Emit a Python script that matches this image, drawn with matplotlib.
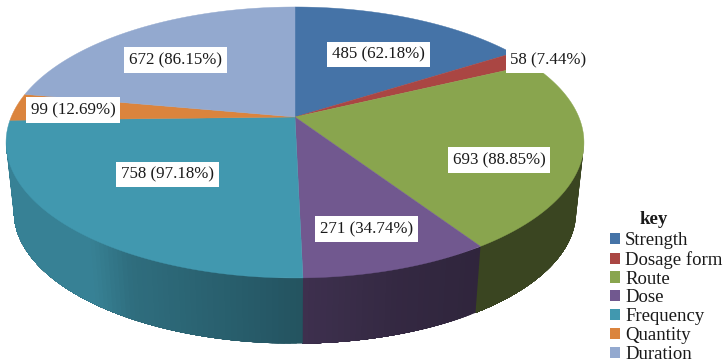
import numpy as np
import matplotlib
matplotlib.use('Agg')
import matplotlib.pyplot as plt
from matplotlib.colors import to_rgb
from matplotlib.patches import Patch, Polygon

categories = ['Strength', 'Dosage form', 'Route', 'Dose', 'Frequency', 'Quantity', 'Duration']
values = [485, 58, 693, 271, 758, 99, 672]
percents = ['62.18', '7.44', '88.85', '34.74', '97.18', '12.69', '86.15']

colors = ['#4573A7', '#AA4643', '#89A54E', '#71588F', '#4198AF', '#DB843D', '#93A9CF']
# label centres in picture pixels
label_pos = [(378.5, 54.5), (548.5, 60), (499, 160), (366.5, 229), (167.5, 174.5), (73, 110), (175.5, 60)]

plt.rcParams['font.family'] = ['Liberation Serif', 'DejaVu Serif']

fig = plt.figure(figsize=(7.26, 3.62), dpi=100)
ax = fig.add_axes([0, 0, 1, 1])
ax.set_xlim(0, 726)
ax.set_ylim(362, 0)
ax.axis('off')

# perspective view of the pie disc, centre of the top face sits at (295, 117)
def project(angle, scale=1.0, drop=0.0):
    xs = np.sin(angle)
    ys = np.cos(angle)
    w = 1 + 0.188 * ys
    return 295 + scale * 283.8 * xs / w, 117 + drop - scale * 130.7 * ys / w

def side_shade(x):
    return np.interp(x, [6, 90, 130, 300, 400, 480, 585], [0.85, 0.85, 0.72, 0.55, 0.46, 0.42, 0.42])

edges = np.radians(np.cumsum([0] + values) / sum(values) * 360)

# only the front of the wall can be seen, between the two silhouette points
wall_from, wall_to = np.radians(101), np.radians(259)

# each strip runs on to the end of its wedge and the next one paints over it, so no seams
for start, end, color in zip(edges[:-1], edges[1:], colors):
    start = max(start, wall_from)
    end = min(end, wall_to)
    if end <= start:
        continue
    angles = np.linspace(start, end, max(int(np.degrees(end - start)), 2) + 1)
    for i in range(len(angles) - 1):
        rest = angles[i:]
        x0, y0 = project(rest)
        x1, y1 = project(rest[::-1], 0.973, 70)
        shade = side_shade((x0[0] + x0[1]) / 2)
        c = tuple(v * shade for v in to_rgb(color))
        pts = list(zip(x0, y0)) + list(zip(x1, y1))
        ax.add_patch(Polygon(pts, fc=c, ec='none', lw=0))

for start, end, color in zip(edges[:-1], edges[1:], colors):
    angles = np.linspace(start, end, 200)
    x, y = project(angles)
    pts = [(295, 117)] + list(zip(x, y))
    ax.add_patch(Polygon(pts, fc=color, ec=color, lw=0.3, zorder=3))

for v, p, (lx, ly) in zip(values, percents, label_pos):
    ax.text(lx, ly, f'{v} ({p}%)', fontsize=12.2, color='#1a1a1a', ha='center', va='center', zorder=5,
            bbox=dict(boxstyle='square,pad=0.28', fc='white', ec='none'))

handles = [Patch(fc=c, ec='none', label=name) for c, name in zip(colors, categories)]
ax.legend(handles=handles, loc='upper left', bbox_to_anchor=(610 / 726, 1 - 232 / 362), frameon=False,
          fontsize=13.5, handlelength=0.53, handleheight=0.53, handletextpad=0.27,
          labelspacing=0.1, borderpad=0, borderaxespad=0, labelcolor='#1a1a1a')
ax.text(654, 219, 'key', fontsize=13.5, fontweight='bold', color='#1a1a1a', ha='center', va='center')

fig.savefig('out.png', dpi=100)
